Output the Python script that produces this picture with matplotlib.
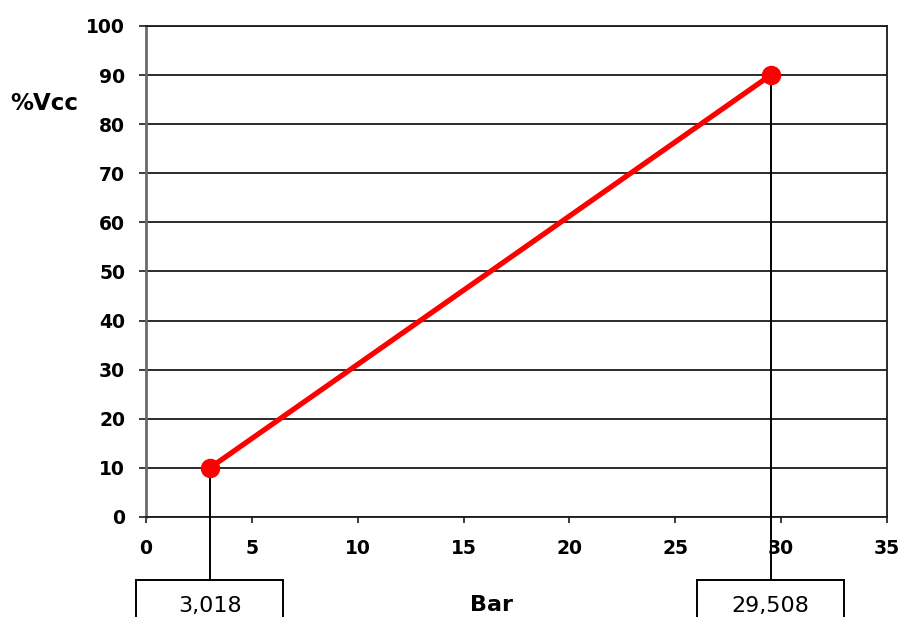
"""
%Vcc vs. Bar - linear sensor transfer line
"""
import matplotlib.pyplot as plt
from matplotlib.patches import Rectangle

bar_values = [3.018, 29.508]
vcc_values = [10, 90]
box_labels = ["3,018", "29,508"]
x_ticks = [0, 5, 10, 15, 20, 25, 30, 35]
y_ticks = [0, 10, 20, 30, 40, 50, 60, 70, 80, 90, 100]


def plot():
    """Draw the chart and save it"""
    plt.rcParams['font.family'] = ['DejaVu Sans']
    fig = plt.figure(figsize=(9.02, 6.17), dpi=100)
    axis = fig.add_axes([0.1619, 0.1621, 0.8215, 0.7958])

    axis.set_xlim(0, 35)
    axis.set_ylim(0, 100)
    axis.set_xticks(x_ticks)
    axis.set_yticks(y_ticks)
    axis.yaxis.grid(True, color='#1a1a1a', linewidth=1.3)
    axis.set_axisbelow(True)

    for spine in axis.spines.values():
        spine.set_color('#1a1a1a')
        spine.set_linewidth(1.3)
    axis.spines['left'].set_color('#6a6a6a')
    axis.spines['left'].set_linewidth(2)

    axis.tick_params(axis='y', direction='out', length=5, width=1.2,
                     color='#1a1a1a', pad=10, labelsize=13.5)
    axis.tick_params(axis='x', direction='out', length=4, width=1.2,
                     color='#1a1a1a', pad=12, labelsize=13.5)
    for lbl in axis.get_xticklabels() + axis.get_yticklabels():
        lbl.set_fontweight('bold')

    # drop lines from the points down to the value boxes
    box_top = -12.8
    for x_val, y_val in zip(bar_values, vcc_values):
        axis.plot([x_val, x_val], [y_val, box_top], color='black',
                  linewidth=1.4, clip_on=False, zorder=3)

    axis.plot(bar_values, vcc_values, color='#ff0000', linewidth=3.8,
              marker='o', markersize=13, zorder=5, clip_on=False)

    box_width = 6.95
    for x_val, text in zip(bar_values, box_labels):
        rect = Rectangle((x_val - box_width / 2, box_top - 12), box_width, 12,
                         facecolor='white', edgecolor='black', linewidth=1.4,
                         clip_on=False, zorder=4)
        axis.add_patch(rect)
        axis.text(x_val, box_top - 5.3, text, ha='center', va='center',
                  fontsize=16, clip_on=False, zorder=6)

    axis.set_xlabel("Bar", fontsize=16, fontweight='bold')
    axis.xaxis.set_label_coords(0.466, -0.159)
    axis.set_ylabel("%Vcc", fontsize=16.5, fontweight='bold', rotation=0,
                    va='center', ha='center')
    axis.yaxis.set_label_coords(-0.137, 0.843)

    fig.savefig("out.png", dpi=100)


if __name__ == '__main__':
    plot()
